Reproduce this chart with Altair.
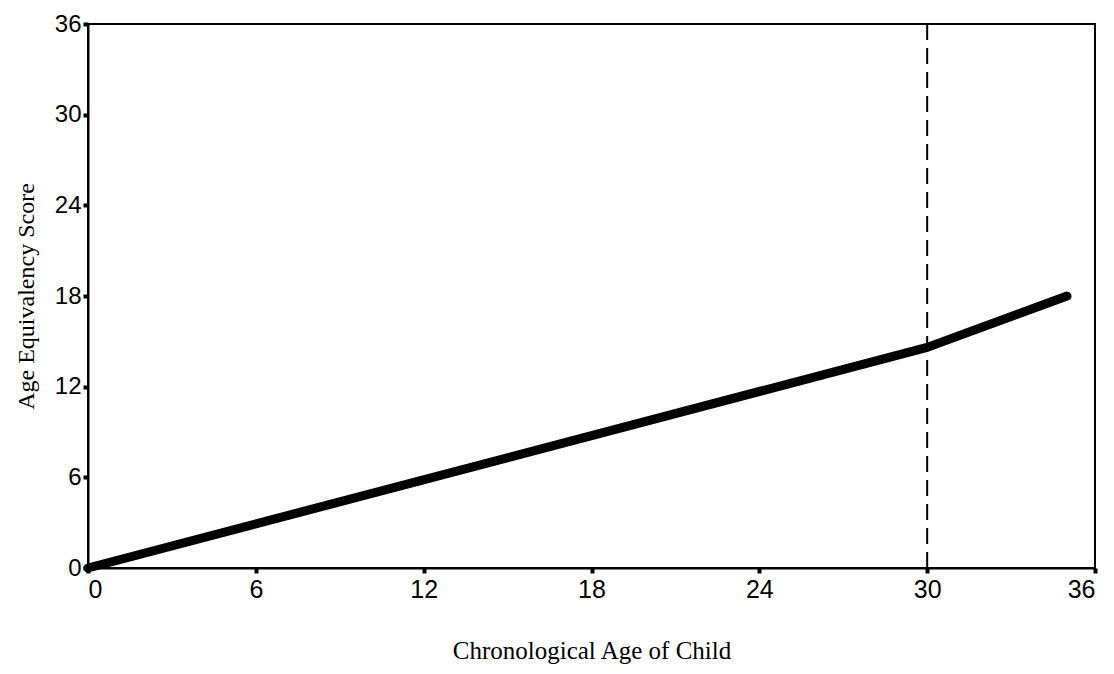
import altair as alt
import pandas as pd

age = [0, 30, 35]
score = [0, 14.6, 18]
cutoff = [30]
ticks = [0, 6, 12, 18, 24, 30, 36]

line_df = pd.DataFrame({"age": age, "score": score})
rule_df = pd.DataFrame({"age": cutoff})

xscale = alt.Scale(domain=[0, 36], nice=False)
yscale = alt.Scale(domain=[0, 36], nice=False)

xaxis = alt.Axis(values=ticks, title="Chronological Age of Child", grid=False,
                 labelFont="Liberation Sans", labelFontSize=25, labelColor="black",
                 titleFont="Liberation Serif", titleFontSize=25, titleFontWeight="normal",
                 titleColor="black", titlePadding=36, tickSize=5, tickWidth=4,
                 tickColor="black", domainColor="black", domainWidth=2, labelPadding=4)
yaxis = alt.Axis(values=ticks, title="Age Equivalency Score", grid=False,
                 labelFont="Liberation Sans", labelFontSize=24, labelColor="black",
                 titleFont="Liberation Serif", titleFontSize=24, titleFontWeight="normal",
                 titleColor="black", titlePadding=16, tickSize=5, tickWidth=4,
                 tickColor="black", domainColor="black", domainWidth=2, labelPadding=2)

line = alt.Chart(line_df).mark_line(color="black", strokeWidth=9, strokeCap="round",
                                     strokeJoin="round").encode(
    x=alt.X("age:Q", scale=xscale, axis=xaxis),
    y=alt.Y("score:Q", scale=yscale, axis=yaxis),
)

rule = alt.Chart(rule_df).mark_rule(color="black", strokeWidth=2,
                                     strokeDash=[16, 8]).encode(
    x=alt.X("age:Q", scale=xscale),
)

chart = alt.layer(rule, line).properties(
    width=1007, height=544,
    autosize=alt.AutoSizeParams(type="none"),
    padding={"left": 80, "top": 16, "right": 10, "bottom": 104},
).configure_view(stroke="black", strokeWidth=2)

chart.save("out.html", embed_options={"renderer": "svg", "actions": False})
